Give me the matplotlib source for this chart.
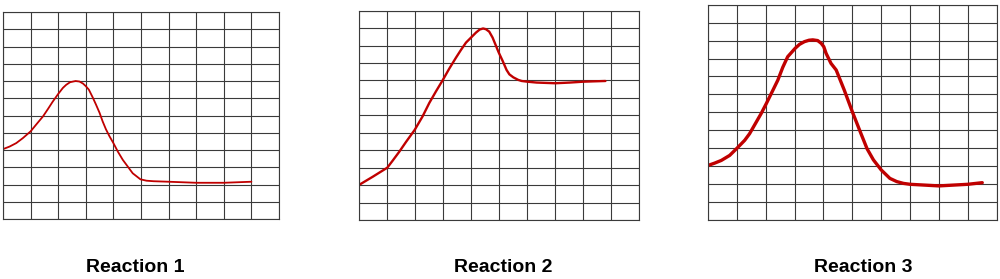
import matplotlib
matplotlib.use("Agg")
import matplotlib.pyplot as plt

# ---- data (grid units: x 0..10, y 0..12) ----
titles = ["Reaction 1", "Reaction 2", "Reaction 3"]

r1_x = [0, 0.24, 0.48, 0.72, 1.0, 1.2, 1.45, 1.63, 1.8, 2.0, 2.17, 2.29, 2.43, 2.63, 2.77, 2.9, 3.0, 3.11, 3.25,
        3.37, 3.5, 3.61, 3.73, 3.86, 4.0, 4.16, 4.34, 4.52, 4.7, 4.82, 4.98, 5.2, 5.45, 6.0, 7.0, 8.0, 9.0]
r1_y = [4.05, 4.2, 4.4, 4.69, 5.08, 5.47, 5.95, 6.38, 6.8, 7.25, 7.6, 7.78, 7.93, 8.0, 7.97, 7.85, 7.7, 7.5, 7.05,
        6.63, 6.15, 5.66, 5.2, 4.79, 4.4, 3.91, 3.43, 3.04, 2.65, 2.5, 2.3, 2.22, 2.19, 2.16, 2.1, 2.1, 2.16]

r2_x = [0, 0.24, 0.48, 0.71, 1.0, 1.19, 1.43, 1.67, 1.98, 2.26, 2.5, 2.74, 2.98, 3.21, 3.45, 3.63, 3.81, 3.99,
        4.17, 4.3, 4.42, 4.52, 4.64, 4.76, 4.98, 5.12, 5.26, 5.36, 5.5, 5.68, 5.8, 6.0, 6.33, 7.0, 7.52, 8.0, 8.79]
r2_y = [2.02, 2.25, 2.48, 2.71, 3.0, 3.4, 3.92, 4.48, 5.17, 5.94, 6.71, 7.38, 8.02, 8.67, 9.3, 9.75, 10.17, 10.46,
        10.75, 10.92, 10.98, 10.94, 10.8, 10.46, 9.6, 9.12, 8.6, 8.35, 8.18, 8.03, 7.97, 7.93, 7.88, 7.84, 7.88, 7.93, 7.97]

r3_x = [0, 0.23, 0.46, 0.75, 1.01, 1.27, 1.44, 1.84, 2.02, 2.25, 2.42, 2.59, 2.76, 3.02, 3.17, 3.34, 3.5, 3.63,
        3.8, 3.92, 4.01, 4.09, 4.26, 4.44, 4.72, 5.0, 5.3, 5.51, 5.73, 6.0, 6.3, 6.54, 6.77, 7.0, 8.0, 9.0, 9.5]
r3_y = [3.04, 3.17, 3.32, 3.6, 4.01, 4.44, 4.81, 5.93, 6.49, 7.24, 7.8, 8.51, 9.1, 9.57, 9.79, 9.94, 10.02, 10.04,
        10.0, 9.85, 9.66, 9.29, 8.73, 8.36, 7.24, 6.03, 4.81, 3.97, 3.35, 2.79, 2.32, 2.14, 2.04, 1.99, 1.90, 1.99, 2.08]

series = [(r1_x, r1_y), (r2_x, r2_y), (r3_x, r3_y)]

# ---- layout ----
W, H = 1000, 279
fig = plt.figure(figsize=(W / 100, H / 100), dpi=100)

# pixel boxes: (left, top, right, bottom)
boxes = [(3, 12, 279, 219), (359.3, 10.7, 639.3, 220), (708, 4.7, 996.7, 220)]
widths = [1.3, 1.7, 2.4]
label_cx = [135, 503, 863.5]
line_color = "#c00000"

for (l, t, r, b), (xs, ys), lw, title, cx in zip(boxes, series, widths, titles, label_cx):
    ax = fig.add_axes([l / W, 1 - b / H, (r - l) / W, (b - t) / H])
    ax.set_xlim(0, 10)
    ax.set_ylim(0, 12)
    ax.set_xticks(range(11))
    ax.set_yticks(range(13))
    ax.tick_params(length=0, labelbottom=False, labelleft=False)
    ax.grid(True, color="#3a3a3a", linewidth=0.8)
    ax.set_axisbelow(True)
    for s in ax.spines.values():
        s.set_color("#3a3a3a")
        s.set_linewidth(0.8)
    ax.plot(xs, ys, color=line_color, linewidth=lw, solid_capstyle="round", solid_joinstyle="round")
    fig.text(cx / W, 1 - 267.5 / H, title, ha="center", va="center",
             fontsize=14, fontweight="bold", family=["Liberation Sans", "DejaVu Sans"])

fig.savefig("out.png", dpi=100, facecolor="white")
